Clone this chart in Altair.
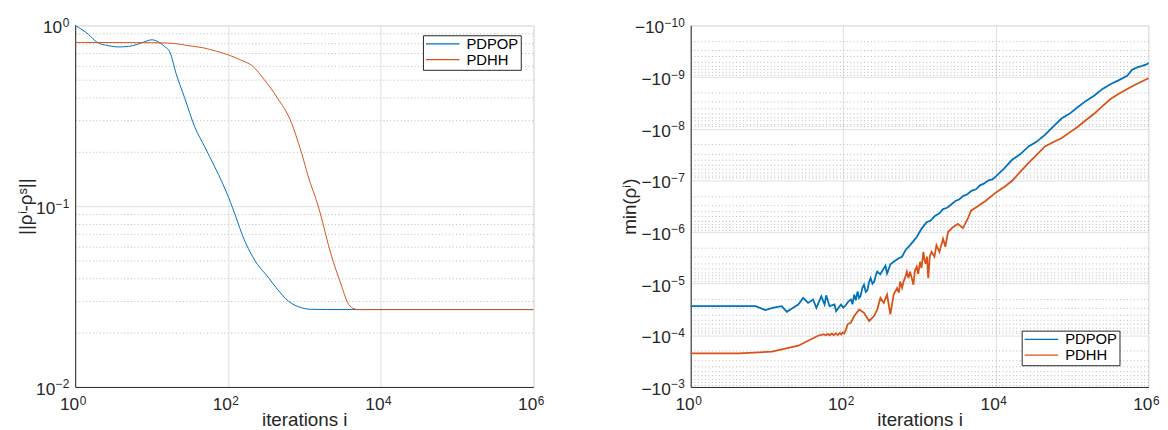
import altair as alt
import pandas as pd

SERIES = ["PDPOP", "PDHH"]
COLORS = ["#0072BD", "#D95319"]
FONT = "Liberation Sans"
INK = "#262626"

# ---------- left panel: ||rho^i - rho^s|| ----------
left_pdpop_iter = [1, 1.5, 1.95, 2.6, 3.75, 5, 6.5, 8, 10.1, 12.3, 14.5, 17.4, 21, 27, 36.7, 50, 66.7,
                   85, 102, 130, 155, 220, 344, 450, 622, 925, 1200, 2000, 1e6]
left_pdpop_val = [1.0, 0.89, 0.804, 0.775, 0.76, 0.765, 0.785, 0.81, 0.832, 0.81, 0.77, 0.71, 0.54, 0.40,
                  0.275, 0.212, 0.166, 0.134, 0.112, 0.085, 0.069, 0.051, 0.040, 0.0345, 0.0298, 0.0274,
                  0.0269, 0.0268, 0.0268]
left_pdhh_iter = [1, 10, 20, 28.6, 47, 70, 102, 150, 209, 300, 440, 687, 840, 925, 1122, 1525, 2260,
                  3050, 3715, 4300, 5000, 1e6]
left_pdhh_val = [0.805, 0.802, 0.794, 0.775, 0.752, 0.72, 0.686, 0.641, 0.597, 0.50, 0.40, 0.286, 0.223,
                 0.196, 0.147, 0.10, 0.0535, 0.0367, 0.0292, 0.0273, 0.0268, 0.0268]

# ---------- right panel: min(rho^i) (negative values, magnitudes stored) ----------
right_pdpop_iter = [1, 7.1, 9.5, 12.2, 15.6, 18.2, 21.5, 25.7, 29.8, 34.6, 40.2, 44.4, 51.5, 56.9, 59.7,
                    66.1, 76.7, 80.5, 93.4, 100, 108, 117, 126, 132, 139, 146, 154, 161, 168, 178, 187,
                    197, 207, 217, 228, 241, 255, 267, 279, 305, 340, 357, 375, 415, 458, 520, 587, 660,
                    751, 830, 918, 1070, 1236, 1400, 1567, 1800, 2032, 2300, 2602, 2950, 3334, 3750,
                    4190, 4800, 5480, 6200, 6955, 8000, 9018, 10000, 12700, 16330, 21000, 26800, 34000,
                    44000, 56000, 72400, 93000, 118900, 152000, 195500, 250000, 321500, 410000, 527000,
                    610000, 710000, 830000, 957000, 1000000]
right_pdpop_mag = [2.73e-5, 2.73e-5, 3.25e-5, 2.92e-5, 2.73e-5, 3.51e-5, 2.98e-5, 2.53e-5, 1.89e-5,
                   2.36e-5, 2.03e-5, 2.94e-5, 1.76e-5, 2.53e-5, 1.68e-5, 2.73e-5, 2.53e-5, 3.40e-5,
                   2.53e-5, 2.9e-5, 2.6e-5, 2.2e-5, 2.03e-5, 2.5e-5, 1.63e-5, 2.1e-5, 1.41e-5, 1.9e-5,
                   1.76e-5, 1.2e-5, 1.05e-5, 1.45e-5, 1.35e-5, 9.5e-6, 7.85e-6, 1.0e-5, 9.08e-6, 6.9e-6,
                   5.85e-6, 6.6e-6, 5.06e-6, 4.5e-6, 6.38e-6, 4.2e-6, 3.77e-6, 3.3e-6, 3.02e-6, 2.2e-6,
                   1.80e-6, 1.5e-6, 1.25e-6, 8.5e-7, 6.47e-7, 6.0e-7, 4.97e-7, 4.4e-7, 3.60e-7, 3.4e-7,
                   2.93e-7, 2.5e-7, 2.32e-7, 2.0e-7, 1.88e-7, 1.6e-7, 1.49e-7, 1.25e-7, 1.16e-7, 1.0e-7,
                   9.6e-8, 8.4e-8, 6.0e-8, 4.0e-8, 3.1e-8, 2.21e-8, 1.8e-8, 1.32e-8, 9.2e-9, 6.35e-9,
                   5.1e-9, 3.80e-9, 2.9e-9, 2.28e-9, 1.7e-9, 1.36e-9, 1.15e-9, 9.44e-10, 7.2e-10,
                   6.53e-10, 6.1e-10, 5.64e-10, 5.3e-10]
right_pdhh_iter = [1, 4.3, 11.6, 25.7, 46.7, 51, 55.8, 59, 62.8, 66.5, 70.8, 75, 79.8, 84.5, 89.8, 94,
                   98.2, 103, 108, 114, 126, 139, 162, 187, 218, 253, 279, 307, 340, 375, 414, 458, 506,
                   535, 557, 590, 617, 650, 681, 715, 751, 831, 870, 918, 960, 1014, 1060, 1122, 1160,
                   1202, 1250, 1300, 1360, 1436, 1567, 1664, 1820, 2032, 2178, 2360, 2738, 3176, 3690,
                   4276, 4720, 5480, 7380, 9937, 13390, 16330, 21500, 26800, 34000, 44000, 56000, 72400,
                   93000, 118900, 152000, 195500, 250000, 321500, 410000, 527000, 700000, 957000, 1000000]
right_pdhh_mag = [2.23e-4, 2.23e-4, 2.07e-4, 1.59e-4, 1.02e-4, 9.8e-5, 9.57e-5, 1.0e-4, 9.4e-5, 1.0e-4,
                  9.2e-5, 1.0e-4, 9.1e-5, 9.9e-5, 9.0e-5, 9.6e-5, 8.8e-5, 9.2e-5, 7.86e-5, 6.11e-5,
                  5.69e-5, 4.24e-5, 3.16e-5, 3.66e-5, 5.28e-5, 4.24e-5, 3.16e-5, 1.89e-5, 2.36e-5,
                  1.63e-5, 3.94e-5, 1.63e-5, 1.22e-5, 1.5e-5, 9.08e-6, 1.2e-5, 9.08e-6, 7.5e-6, 5.85e-6,
                  7.8e-6, 5.85e-6, 1.05e-5, 5.5e-6, 4.69e-6, 6.5e-6, 3.77e-6, 5.0e-6, 2.42e-6, 3.5e-6,
                  4.11e-6, 3.0e-6, 7.85e-6, 3.0e-6, 2.42e-6, 3.02e-6, 1.80e-6, 2.42e-6, 1.35e-6, 1.94e-6,
                  1.0e-6, 8.05e-7, 6.97e-7, 8.42e-7, 5.6e-7, 3.86e-7, 3.34e-7, 2.49e-7, 1.73e-7, 1.29e-7,
                  1.02e-7, 6.55e-8, 4.6e-8, 3.24e-8, 2.21e-8, 1.83e-8, 1.53e-8, 1.18e-8, 9.16e-9, 6.8e-9,
                  5.1e-9, 3.67e-9, 2.63e-9, 2.11e-9, 1.70e-9, 1.36e-9, 1.09e-9, 1.05e-9]

# ---------- ticks and tick labels (base + superscript exponent) ----------
x_tick_values = [1, 100, 10000, 1000000]
x_label_base = ["10", "10", "10", "10"]
x_label_exp = ["0", "2", "4", "6"]
y_left_ticks = [0.01, 0.1, 1]
y_left_base = ["10", "10", "10"]
y_left_exp = ["−2", "−1", "0"]
y_left_minor = [0.02, 0.03, 0.04, 0.05, 0.06, 0.07, 0.08, 0.09,
                0.2, 0.3, 0.4, 0.5, 0.6, 0.7, 0.8, 0.9]
y_right_ticks = [1e-10, 1e-9, 1e-8, 1e-7, 1e-6, 1e-5, 1e-4, 1e-3]
y_right_base = ["−10"] * 8
y_right_exp = ["−10", "−9", "−8", "−7", "−6", "−5", "−4", "−3"]
y_right_minor = [k * d for d in [1e-10, 1e-9, 1e-8, 1e-7, 1e-6, 1e-5, 1e-4] for k in range(2, 10)]

# ---------- layout constants ----------
W_L, W_R, H = 463.7, 463.3, 366
BASE_FS, EXP_FS, TITLE_FS, LEG_FS = 17.5, 12, 19, 15

MAJOR = "abs(log(datum.value) / LN10 - round(log(datum.value) / LN10)) < 1e-6"
grid_color = {"condition": {"test": MAJOR, "value": "#e0e0e0"}, "value": "#bababa"}
grid_dash = {"condition": {"test": MAJOR, "value": []}, "value": [1, 2.5]}


def text_width(s, fs):
    return sum((0.584 if c == "−" else 0.556) for c in s) * fs


def frame(iters, vals, name):
    return pd.DataFrame({"iter": iters, "val": vals, "series": name})


left_df = pd.concat([frame(left_pdpop_iter, left_pdpop_val, "PDPOP"),
                     frame(left_pdhh_iter, left_pdhh_val, "PDHH")])
right_df = pd.concat([frame(right_pdpop_iter, right_pdpop_mag, "PDPOP"),
                      frame(right_pdhh_iter, right_pdhh_mag, "PDHH")])

common_axis = dict(titleFont=FONT, titleFontSize=TITLE_FS, titleFontWeight="normal", titleColor=INK,
                   domainColor=INK, ticks=False, labels=False)


def x_encoding(width):
    return alt.X("iter:Q", scale=alt.Scale(type="log", domain=[1, 1e6]),
                 axis=alt.Axis(values=x_tick_values, title="iterations i", gridColor="#e0e0e0",
                               titleX=width / 2, titleY=38.5, titleBaseline="alphabetic",
                               titleAlign="center", **common_axis))


def y_encoding(domain, reverse, values, title, title_x):
    return alt.Y("val:Q", scale=alt.Scale(type="log", domain=domain, reverse=reverse),
                 axis=alt.Axis(values=values, title=title, gridColor=grid_color, gridDash=grid_dash,
                               titleX=title_x, titleY=H / 2, titleAngle=-90, titleBaseline="alphabetic",
                               titleAlign="center", **common_axis))


def color_enc(lx, ly):
    return alt.Color("series:N", scale=alt.Scale(domain=SERIES, range=COLORS),
                     legend=alt.Legend(orient="none", legendX=lx, legendY=ly, title=None,
                                       strokeColor=INK, fillColor="white", padding=2,
                                       symbolType="stroke", symbolSize=1150, symbolStrokeWidth=1.2,
                                       labelFont=FONT, labelFontSize=LEG_FS, labelColor="black",
                                       labelOffset=6, rowPadding=0, clipHeight=13.5, cornerRadius=0))


def x_label_layers(x_enc):
    df = pd.DataFrame({"iter": x_tick_values, "base": x_label_base, "exp": x_label_exp})
    base = alt.Chart(df).mark_text(align="right", baseline="alphabetic", dx=4, font=FONT,
                                   fontSize=BASE_FS, color=INK).encode(
        x=x_enc, y=alt.value(H + 23.5), text="base:N")
    exp = alt.Chart(df).mark_text(align="left", baseline="alphabetic", dx=4.5, font=FONT,
                                  fontSize=EXP_FS, color=INK).encode(
        x=x_enc, y=alt.value(H + 18), text="exp:N")
    return [base, exp]


def y_label_layers(y_enc, ticks, bases, exps):
    df = pd.DataFrame({"val": ticks, "base": bases, "exp": exps,
                       "px": [-6.5 - text_width(e, EXP_FS) for e in exps]})
    base = alt.Chart(df).mark_text(align="right", baseline="alphabetic", dy=8, font=FONT,
                                   fontSize=BASE_FS, color=INK).encode(
        x=alt.X("px:Q", scale=None), y=y_enc, text="base:N")
    exp = alt.Chart(df).mark_text(align="right", baseline="alphabetic", dy=1.5, font=FONT,
                                  fontSize=EXP_FS, color=INK).encode(
        x=alt.value(-6), y=y_enc, text="exp:N")
    return [base, exp]


# left panel
xl = x_encoding(W_L)
yl = y_encoding([0.01, 1], False, y_left_ticks + y_left_minor, "||ρⁱ-ρˢ||", -44.5)
left_lines = alt.Chart(left_df).mark_line(strokeWidth=1, interpolate="monotone").encode(
    x=xl, y=yl, color=color_enc(352, 10))
left = alt.layer(left_lines, *x_label_layers(xl),
                 *y_label_layers(yl, y_left_ticks, y_left_base, y_left_exp)).properties(width=W_L, height=H)

# right panel
xr = x_encoding(W_R)
yr = y_encoding([1e-10, 1e-3], True, y_right_ticks + y_right_minor, "min(ρⁱ)", -56)
right_lines = alt.Chart(right_df).mark_line(strokeWidth=1.8).encode(
    x=xr, y=yr, color=color_enc(335, 309))
right = alt.layer(right_lines, *x_label_layers(xr),
                  *y_label_layers(yr, y_right_ticks, y_right_base, y_right_exp)).properties(width=W_R, height=H)

chart = alt.hconcat(left, right, spacing=159, bounds="flush").resolve_legend(
    color="independent"
).properties(
    padding={"left": 8, "top": 6, "right": 0, "bottom": 0},
).configure_view(stroke=INK, strokeWidth=1).configure(background="white")

chart.save("out.html", embed_options={"renderer": "svg", "actions": False})
